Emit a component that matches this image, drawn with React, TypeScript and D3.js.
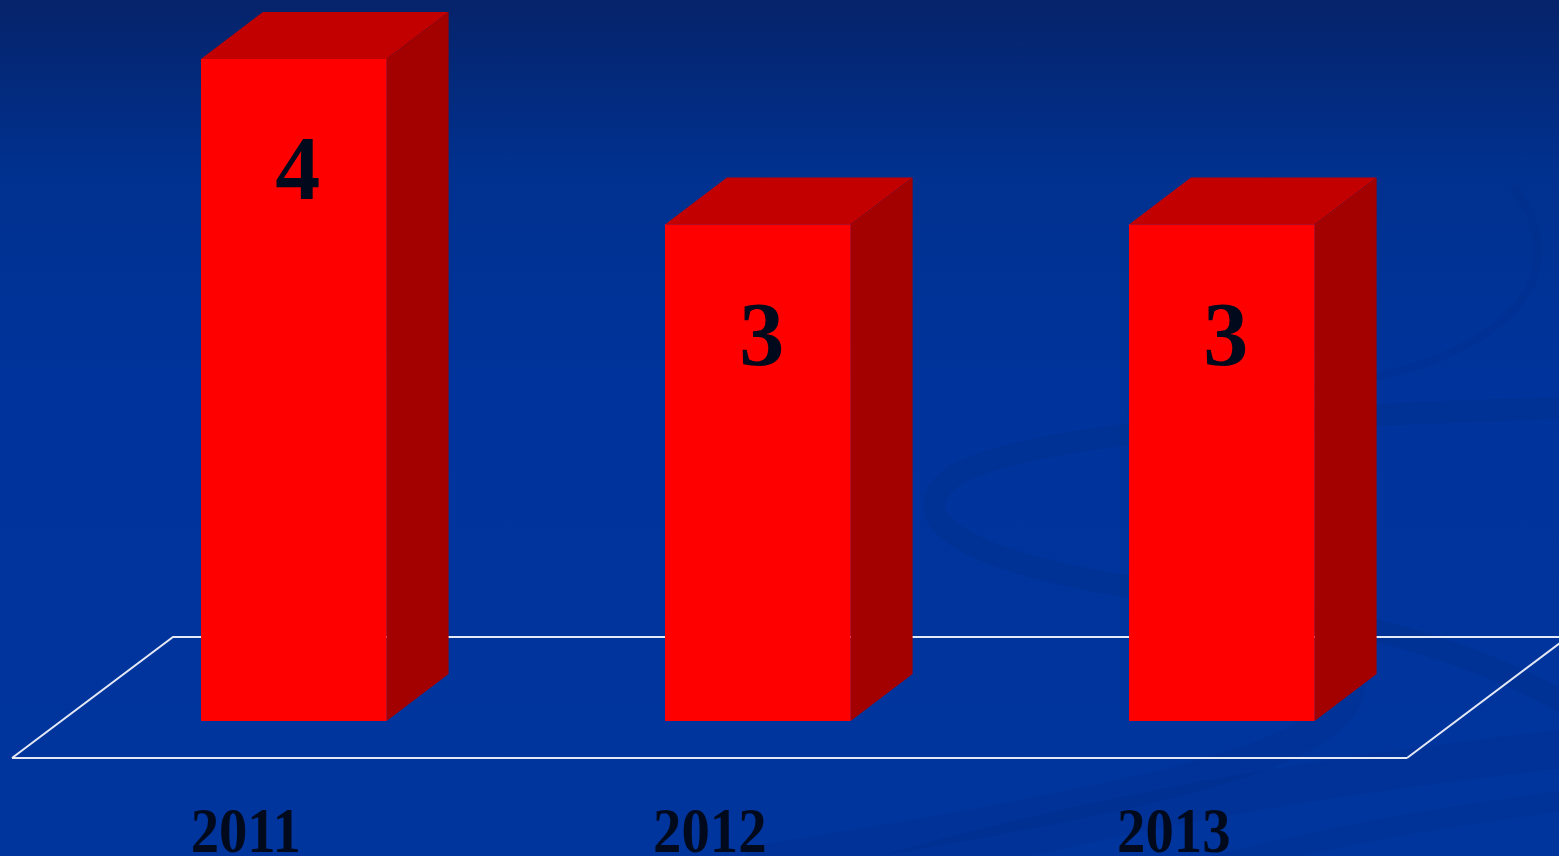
import * as d3 from "d3";

const years = ["2011", "2012", "2013"];
const counts = [4, 3, 3];
const valueTicks = [0, 4];

const W = 1559;
const H = 856;

// bar depth (oblique projection)
const DX = 62;
const DY = -47;

const FRONT = "#ff0000";
const TOP = "#c20000";
const SIDE = "#a30000";
const INK = "#000a1c";

export default function App() {
  const x = d3.scaleBand<string>().domain(years).range([-31, 1546.6]).paddingInner(0.6).paddingOuter(0.5);
  const y = d3.scaleLinear().domain([valueTicks[0], valueTicks[1]]).range([721, 59]);

  const base = y(0);
  // floor: front edge and back edge
  const floorFront = base + 37;
  const floorBack = base - 84;
  const floorLeft = 12;
  const floorRight = 1407;
  const fdx = 161;

  const poly = (pts: [number, number][]) => d3.line()(pts) + "Z";

  return (
    <svg width={W} height={H} style={{ position: "absolute", left: 0, top: 0, display: "block" }}>
      <defs>
        <linearGradient id="bg" x1="0" y1="0" x2="0" y2="1">
          <stop offset="0" stopColor="#06236a" />
          <stop offset="0.2" stopColor="#00318f" />
          <stop offset="0.45" stopColor="#00349c" />
          <stop offset="1" stopColor="#00359d" />
        </linearGradient>
      </defs>
      <rect width={W} height={H} fill="url(#bg)" />

      {/* background swirls */}
      <g fill="none" stroke="#002a82" strokeOpacity={0.28} strokeLinecap="round">
        <path d="M1559,408 C1350,415 1050,425 955,475 C900,515 950,560 1150,590 C1330,615 1450,640 1559,700" strokeWidth={22} />
        <path d="M1335,650 C1380,700 1330,750 1120,795 C980,825 860,845 760,860" strokeWidth={30} strokeOpacity={0.22} />
        <path d="M1515,190 C1560,250 1545,320 1420,365 C1320,395 1220,405 1130,412" strokeWidth={8} strokeOpacity={0.22} />
        <path d="M900,870 C1150,800 1380,770 1570,748" strokeWidth={38} strokeOpacity={0.2} />
        <path d="M1200,870 C1350,830 1460,815 1570,800" strokeWidth={20} strokeOpacity={0.18} />
      </g>

      {/* floor back + sides */}
      <path
        d={d3.line()([
          [floorLeft, floorFront],
          [floorLeft + fdx, floorBack],
          [floorRight + fdx, floorBack],
          [floorRight, floorFront],
        ]) ?? ""}
        fill="none"
        stroke="#e4e9f5"
        strokeWidth={2}
      />

      {years.map((yr, i) => {
        const x0 = x(yr) ?? 0;
        const x1 = x0 + x.bandwidth();
        const yt = y(counts[i]);
        return (
          <g key={yr}>
            <path d={poly([[x0, yt], [x0 + DX, yt + DY], [x1 + DX, yt + DY], [x1, yt]])} fill={TOP} />
            <path d={poly([[x1, yt], [x1 + DX, yt + DY], [x1 + DX, base + DY], [x1, base]])} fill={SIDE} />
            <rect x={x0} y={yt} width={x1 - x0} height={base - yt} fill={FRONT} />
            <text
              x={(x0 + x1) / 2 + 4}
              y={yt + 140}
              textAnchor="middle"
              fontFamily="'Liberation Serif', 'Times New Roman', serif"
              fontWeight="bold"
              fontSize={90}
              fill={INK}
            >
              {counts[i]}
            </text>
          </g>
        );
      })}

      {/* floor front edge */}
      <path d={d3.line()([[floorLeft, floorFront], [floorRight, floorFront]]) ?? ""} stroke="#e4e9f5" strokeWidth={2} />

      {years.map((yr) => {
        const cx = (x(yr) ?? 0) + x.bandwidth() / 2 - 48;
        return (
          <text
            key={yr}
            transform={`translate(${cx},852) scale(0.9,1)`}
            textAnchor="middle"
            fontFamily="'Liberation Serif', 'Times New Roman', serif"
            fontWeight="bold"
            fontSize={63}
            fill={INK}
          >
            {yr}
          </text>
        );
      })}
    </svg>
  );
}
